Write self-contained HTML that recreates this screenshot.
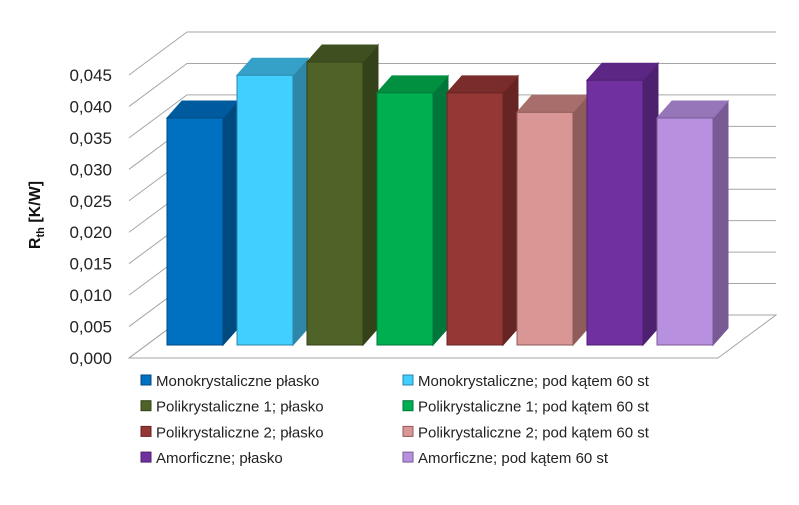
<!DOCTYPE html>
<html><head><meta charset="utf-8"><style>
body{margin:0;background:#fff}
svg{display:block;font-family:"Liberation Sans",sans-serif}
</style></head><body>
<svg id="chart" width="799" height="505" viewBox="0 0 799 505">
<g id="grid"></g>
<g id="yticks"></g>
<g id="bars"></g>
<g id="legend"></g>
<text transform="translate(40,215) rotate(-90)" text-anchor="middle" font-size="16" font-weight="bold" fill="#111">R<tspan font-size="11" dy="4">th</tspan><tspan dy="-4"> [K/W]</tspan></text>
</svg>
<script>
const categories=["Monokrystaliczne płasko","Monokrystaliczne; pod kątem 60 st","Polikrystaliczne 1; płasko","Polikrystaliczne 1; pod kątem 60 st","Polikrystaliczne 2; płasko","Polikrystaliczne 2; pod kątem 60 st","Amorficzne; płasko","Amorficzne; pod kątem 60 st"];
const values=[0.0361,0.0429,0.045,0.0401,0.0401,0.037,0.0421,0.0361];
const tickValues=[0,0.005,0.01,0.015,0.02,0.025,0.03,0.035,0.04,0.045];
const tickLabels=["0,000","0,005","0,010","0,015","0,020","0,025","0,030","0,035","0,040","0,045"];
const fronts=["#0070C0","#40CFFF","#4F6228","#00B050","#953735","#D99694","#7030A0","#B890E0"];
const tops=["#005A9E","#35A0C8","#3F4F1F","#00903F","#7A2C2A","#A86E6C","#5B2684","#9675B8"];
const sides=["#004A80","#2E86A8","#344219","#00763A","#662423","#8E5C5A","#4E2070","#7A5A95"];
const NS="http://www.w3.org/2000/svg";
const floorY=358, left=129, right=718, ddx=58, ddy=-43;
const pxPer=283/0.045;
function y(v){return floorY-v*pxPer;}
function mk(tag,attrs,parent){const e=document.createElementNS(NS,tag);for(const k in attrs)e.setAttribute(k,attrs[k]);parent.appendChild(e);return e;}
const grid=document.getElementById('grid');
tickValues.forEach((v,i)=>{
  const yy=y(v);
  const p=mk('polyline',{points:`${left},${yy} ${left+ddx},${yy+ddy} ${right+ddx},${yy+ddy}`,fill:'none',stroke:'#A6A6A6','stroke-width':1},grid);
  
  
  const t=mk('text',{x:112,y:yy+6,'text-anchor':'end','font-size':17,fill:'#222'},document.getElementById('yticks'));
  
  
  t.textContent=tickLabels[i];
});
const fl=mk('polygon',{points:`${left},${floorY} ${left+ddx},${floorY+ddy} ${right+ddx},${floorY+ddy} ${right},${floorY}`,fill:'none',stroke:'#A6A6A6'},grid);


const bars=document.getElementById('bars');
const bx0=167,pitch=70,bw=56,baseY=345,sdx=15,sdy=-17;
values.forEach((v,i)=>{
  const x0=bx0+i*pitch,x1=x0+bw,top=baseY-v*pxPer;
  const g=mk('g',{},bars);
  
  
  mk('polygon',{points:`${x1},${top} ${x1+sdx},${top+sdy} ${x1+sdx},${baseY+sdy} ${x1},${baseY}`,fill:sides[i],stroke:sides[i]},g);
  mk('polygon',{points:`${x0},${top} ${x0+sdx},${top+sdy} ${x1+sdx},${top+sdy} ${x1},${top}`,fill:tops[i],stroke:tops[i]},g);
  mk('rect',{x:x0,y:top,width:bw,height:baseY-top,fill:fronts[i],stroke:sides[i],'stroke-width':1},g);
});
const legend=document.getElementById('legend');
categories.forEach((c,i)=>{
  const col=i%2,row=Math.floor(i/2);
  const x=col?403:141,yy=380+row*25.7;
  const g=mk('g',{},legend);
  
  
  mk('rect',{x:x,y:yy-5,width:10,height:10,fill:fronts[i],stroke:sides[i]},g);
  const t=mk('text',{x:x+15,y:yy+6,'font-size':15,fill:'#222'},g);
  t.textContent=c;
});
</script>
</body></html>
